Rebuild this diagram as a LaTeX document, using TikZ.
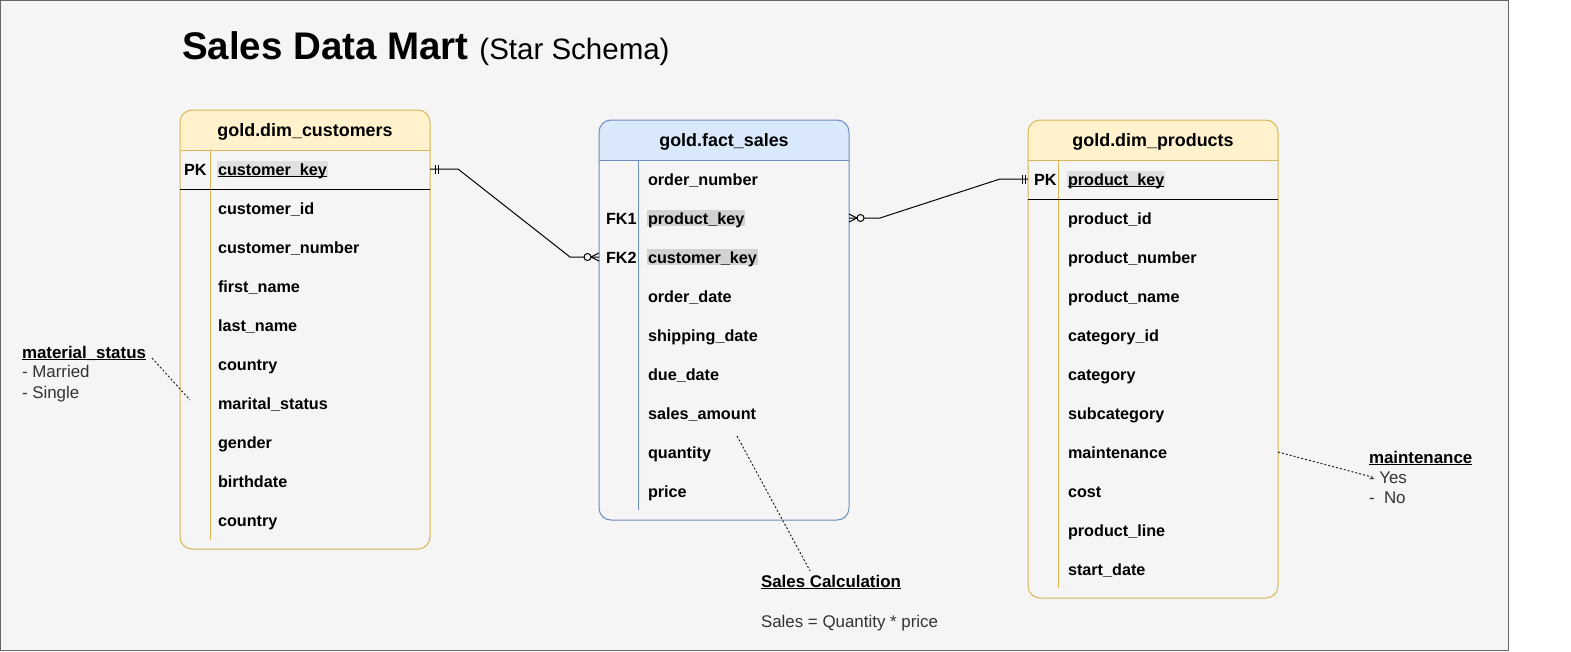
\documentclass[tikz,border=0pt]{standalone}
\usepackage{fontspec}
\setmainfont{Liberation Sans}
\usetikzlibrary{calc,positioning}
\definecolor{canvas}{HTML}{F5F5F5}
\definecolor{frame}{HTML}{666666}
\definecolor{dimline}{HTML}{D6B656}
\definecolor{dimhead}{HTML}{FFF2CC}
\definecolor{factline}{HTML}{6C8EBF}
\definecolor{facthead}{HTML}{DAE8FC}
\definecolor{pkshade}{HTML}{E0E0E0}
\definecolor{fkshade}{HTML}{D2D2D2}
\definecolor{notegray}{HTML}{333333}
\newcommand{\keyul}[1]{\underline{\raisebox{0pt}[\height][0pt]{#1}}}
\tikzset{every node/.style={inner sep=0pt,outer sep=0pt},
  tablebox/.style={fill=canvas,rounded corners=12pt,anchor=north west,minimum width=250pt},
  tabletitle/.style={font=\fontsize{17.9}{21}\selectfont\bfseries,text height=13pt,text depth=1pt},
  field/.style={anchor=west,inner sep=1pt,text height=13pt,text depth=1pt,
    font=\fontsize{16.2}{20}\selectfont\bfseries},
  rel/.style={draw=black,line width=1pt},
  note/.style={anchor=base west,font=\fontsize{16.9}{20}\selectfont,text=notegray},
  notehead/.style={note,font=\fontsize{16.9}{20}\selectfont\bfseries,text=black},
  noteline/.style={draw=black!85,line width=1pt,dash pattern=on 2pt off 2pt}}
\begin{document}
\begin{tikzpicture}[x=1pt,y=-1pt,line width=1pt]
\useasboundingbox (0,0) rectangle (1571,651);
\draw[draw=frame,fill=canvas] (.5,.5) rectangle (1508,650);
\node[anchor=base west,font=\fontsize{38.5}{44}\selectfont\bfseries] (title) at (182,59)
  {Sales Data Mart {\fontsize{29.5}{35}\selectfont\mdseries (Star Schema)}};
% tables
\foreach \n/\x/\y/\h/\ln/\hd in {cust/180/110/439/dimline/dimhead,
    fact/599/120/400/factline/facthead, prod/1028/120/478/dimline/dimhead}{
  \node[tablebox,minimum height=\h pt] (\n) at (\x,\y) {};
  \fill[fill=\hd,rounded corners=12pt] (\n.north west) rectangle ($(\n.north east)+(0,40)$);
  \fill[fill=\hd] ($(\n.north west)+(0,20)$) rectangle ($(\n.north east)+(0,40)$);
  \draw[draw=\ln,rounded corners=12pt] (\n.north west) rectangle (\n.south east);
  \draw[draw=\ln] ($(\n.north west)+(0,40)$) -- ($(\n.north east)+(0,40)$);}
\node[tabletitle] (cust-h) at ($(cust.north)+(0,20)$) {gold.dim\_customers};
\node[tabletitle] (fact-h) at ($(fact.north)+(0,20)$) {gold.fact\_sales};
\node[tabletitle] (prod-h) at ($(prod.north)+(0,20)$) {gold.dim\_products};
\draw[dimline] (210,150) -- (210,540);
\draw[factline] (638,160) -- (638,510);
\draw[dimline] (1058,160) -- (1058,588);
\draw (180,189) -- (430,189);
\draw (1028,199) -- (1278,199);
% rows
\node[field] (cpk) at (183,169) {PK};
\node[field,fill=pkshade] (ck) at (217,169) {\keyul{customer\_key}};
\foreach \t [count=\i] in {customer\_id,customer\_number,first\_name,last\_name,country,
    marital\_status,gender,birthdate,country}
  \node[field] (c\i) at (217,{169+39*\i}) {\t};
\node[field] (fk1) at (605,218) {FK1};
\node[field] (fk2) at (605,257) {FK2};
\foreach \t/\s [count=\i from 0] in {order\_number/canvas,product\_key/fkshade,customer\_key/fkshade,
    order\_date/canvas,shipping\_date/canvas,due\_date/canvas,sales\_amount/canvas,quantity/canvas,price/canvas}
  \node[field,fill=\s] (f\i) at (647,{179+39*\i}) {\t};
\node[field] (ppk) at (1033,179) {PK};
\node[field,fill=pkshade] (pkey) at (1067,179) {\keyul{product\_key}};
\foreach \t [count=\i] in {product\_id,product\_number,product\_name,category\_id,category,
    subcategory,maintenance,cost,product\_line,start\_date}
  \node[field] (p\i) at (1067,{179+39*\i}) {\t};
% relationships
\coordinate (r1a) at (cust.east |- ck);
\coordinate (r1b) at (fact.west |- f2);
\coordinate (r2a) at (fact.east |- f1);
\coordinate (r2b) at (prod.west |- pkey);
\draw[rel] (r1a) -- ++(28,0) -- ($(r1b)+(-29,0)$) -- (r1b);
\draw[rel] (r2a) -- ++(31,0) -- ($(r2b)+(-28,0)$) -- (r2b);
\foreach \p/\a/\b in {r1a/5/8,r2b/-3/-6}
  \draw[rel] ($(\p)+(\a,-4.5)$) -- +(0,9) ($(\p)+(\b,-4.5)$) -- +(0,9);
\foreach \p/\d in {r1b/-1,r2a/1}{
  \draw[rel] ($(\p)+(0,-4)$) -- ($(\p)+(\d*8,0)$) -- ($(\p)+(0,4)$);
  \draw[rel,fill=canvas] ($(\p)+(\d*11.5,0)$) circle (3.5pt);}
% notes
\node[notehead] (ms-h) at (22,358) {\keyul{material\_status}};
\node[note] (ms-a) at (22,377) {- Married};
\node[note] (ms-b) at (22,398) {- Single};
\node[notehead] (mt-h) at (1369,463) {\keyul{maintenance}};
\node[note] (mt-a) at (1369,483) {- Yes};
\node[note] (mt-b) at (1369,503) {-~ No};
\node[notehead] (sc-h) at (761,587) {\keyul{Sales Calculation}};
\node[note] (sc-a) at (761,627) {Sales = Quantity * price};
\coordinate (ms-pin) at (190,400);
\coordinate (sc-pin) at (737,436);
\draw[noteline] ([xshift=6pt]ms-h.base east) -- (ms-pin);
\draw[noteline] (prod.east |- p7) -- ([xshift=4pt]mt-a.west);
\draw[noteline] (sc-pin) -- ([xshift=-21pt,yshift=4pt]sc-h.north);
\end{tikzpicture}
\end{document}
